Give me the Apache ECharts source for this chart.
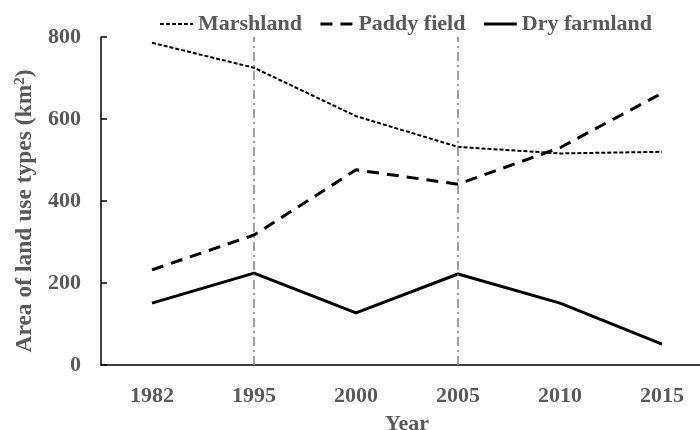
<!DOCTYPE html>
<html>
<head>
<meta charset="utf-8">
<script src="https://cdn.jsdelivr.net/npm/echarts@6/dist/echarts.min.js"></script>
<style>
  html, body { margin: 0; padding: 0; background: #fff; }
  #chart { width: 700px; height: 430px; }
</style>
</head>
<body>
<div id="chart"></div>
<script>
const years = ['1982', '1995', '2000', '2005', '2010', '2015']
const marshland = [786, 725, 607, 532, 516, 520]
const paddyField = [232, 317, 476, 441, 530, 663]
const dryFarmland = [151, 224, 127, 222, 151, 51]
const markYears = ['1995', '2005']
const yTicks = [0, 800, 200]   // min, max, interval

const gray = '#595959'
const font = 'Liberation Serif, Times New Roman, serif'
const txt = { color: gray, fontFamily: font, fontWeight: 'bold', fontSize: 22 }

// line looks per series, shared by the plot and the legend
const styles = {
  'Marshland': { color: '#000', width: 2, type: [4, 2] },
  'Paddy field': { color: '#000', width: 3, type: [12, 8] },
  'Dry farmland': { color: '#000', width: 3, type: 'solid' }
}

let chart = echarts.init(document.getElementById('chart'))
chart.setOption({
  animation: false,
  grid: { left: 101, right: -13, top: 37, bottom: 65, outerBoundsMode: 'none', containLabel: false },
  legend: {
    left: 154,
    top: 8,
    itemWidth: 33,
    itemHeight: 14,
    itemGap: 17,
    itemStyle: { opacity: 0 },
    textStyle: txt,
    data: Object.keys(styles).map(k => ({ name: k, lineStyle: styles[k] }))
  },
  xAxis: {
    type: 'category',
    data: years,
    name: 'Year',
    nameLocation: 'middle',
    nameGap: 48,
    nameTextStyle: txt,
    axisLine: { lineStyle: { color: '#000', width: 1.5 } },
    axisTick: { inside: true, length: 6, lineStyle: { color: '#000', width: 1.5 } },
    axisLabel: Object.assign({ margin: 20 }, txt),
    splitLine: { show: false }
  },
  yAxis: {
    type: 'value',
    min: yTicks[0],
    max: yTicks[1],
    interval: yTicks[2],
    name: '{a|Area of land use types (km}{s|2}{a|)}',
    nameLocation: 'middle',
    nameGap: 62,
    nameTextStyle: {
      padding: [0, 20, 0, 0],
      rich: {
        a: Object.assign({}, txt, { fontSize: 23.5 }),
        s: Object.assign({}, txt, { fontSize: 15, verticalAlign: 'top', padding: [0, 0, 8, 0] })
      }
    },
    axisLine: { show: true, lineStyle: { color: '#000', width: 1.5 } },
    axisTick: { show: true, inside: true, length: 6, lineStyle: { color: '#000', width: 1.5 } },
    axisLabel: Object.assign({ margin: 20 }, txt),
    splitLine: { show: false }
  },
  series: [
    {
      name: 'Marshland',
      type: 'line',
      data: marshland,
      symbol: 'none',
      lineStyle: styles['Marshland'],
      itemStyle: { color: '#000' },
      markLine: {
        silent: true,
        symbol: 'none',
        label: { show: false },
        lineStyle: { color: '#808080', width: 1.5, type: [9, 4, 2, 4] },
        data: markYears.map(y => ({ xAxis: y }))
      }
    },
    {
      name: 'Paddy field',
      type: 'line',
      data: paddyField,
      symbol: 'none',
      lineStyle: styles['Paddy field'],
      itemStyle: { color: '#000' }
    },
    {
      name: 'Dry farmland',
      type: 'line',
      data: dryFarmland,
      symbol: 'none',
      lineStyle: styles['Dry farmland'],
      itemStyle: { color: '#000' }
    }
  ]
})
</script>
</body>
</html>
